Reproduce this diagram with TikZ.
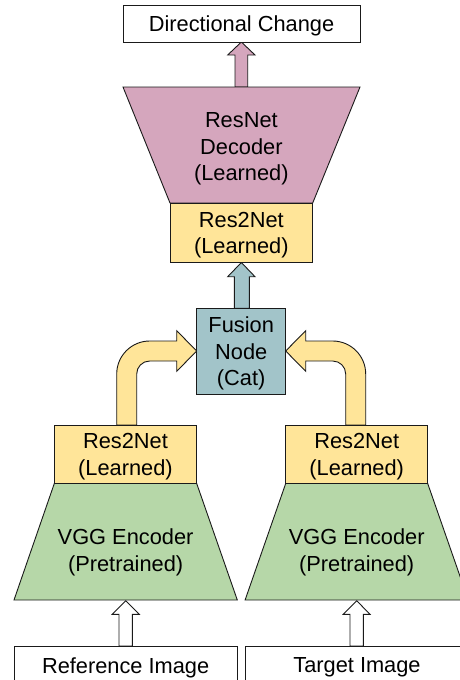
\documentclass[tikz,border=0pt]{standalone}
\usepackage{fontspec}
\setmainfont{Liberation Sans}
\definecolor{pinkc}{HTML}{D5A6BD}
\definecolor{yellowc}{HTML}{FFE599}
\definecolor{tealc}{HTML}{A2C4C9}
\definecolor{greenc}{HTML}{B6D7A8}
\definecolor{linec}{HTML}{1A1A1A}
\begin{document}
\begin{tikzpicture}[x=1pt,y=-1pt,line width=0.9pt,
  box/.style={draw=linec, inner sep=0pt, outer sep=0pt},
  lbl/.style={inner sep=0pt, align=center, yshift=-2.6pt,
    font=\fontsize{21.8}{26.5}\selectfont},
  shp/.style={draw=linec, line join=miter}]
\useasboundingbox (0,0) rectangle (460,680);
\clip (0,0) rectangle (460,680);

% ---------- block arrows (drawn first) ----------
% pink arrow decoder -> output
\draw[shp, fill=pinkc] (235,87) -- (235,55) -- (227.7,55) -- (241.35,42) -- (255,55) -- (247.7,55) -- (247.7,87) -- cycle;
% teal arrow fusion -> res2net
\draw[shp, fill=tealc] (234.3,308.3) -- (234.3,276.7) -- (227.7,276.7) -- (241.35,262.5) -- (255,276.7) -- (249.3,276.7) -- (249.3,308.3) -- cycle;
% left curved yellow arrow
\draw[shp, fill=yellowc] (116.7,425) -- (116.7,374)
  .. controls (116.7,355.8) and (131.5,341) .. (149.7,341)
  -- (176.7,341) -- (176.7,330.7) -- (196.7,351) -- (176.7,371.3) -- (176.7,361)
  -- (149.7,361) .. controls (142.5,361) and (136.7,366.8) .. (136.7,374)
  -- (136.7,425) -- cycle;
% right curved yellow arrow (mirror)
\draw[shp, fill=yellowc] (365.7,425) -- (365.7,374)
  .. controls (365.7,355.8) and (350.9,341) .. (332.7,341)
  -- (305.7,341) -- (305.7,330.7) -- (285.7,351) -- (305.7,371.3) -- (305.7,361)
  -- (332.7,361) .. controls (339.9,361) and (345.7,366.8) .. (345.7,374)
  -- (345.7,425) -- cycle;
% white input arrows
\draw[shp, fill=white] (119,646) -- (119,614.3) -- (112.3,614.3) -- (125.8,600.7) -- (139.3,614.3) -- (132.3,614.3) -- (132.3,646) -- cycle;
\draw[shp, fill=white] (350,646) -- (350,614.3) -- (343.3,614.3) -- (356.7,600.7) -- (370,614.3) -- (363.3,614.3) -- (363.3,646) -- cycle;

% ---------- trapezoids ----------
\draw[shp, fill=pinkc] (123,87) -- (360,87) -- (312.7,203) -- (170,203) -- cycle;
\draw[shp, fill=greenc] (54.3,483.5) -- (196.7,483.5) -- (237.3,600) -- (14,600) -- cycle;
\draw[shp, fill=greenc] (285.7,483.5) -- (427.7,483.5) -- (468.3,600) -- (245.1,600) -- cycle;

% ---------- boxes ----------
\node[box, fill=white, minimum width=237pt, minimum height=37pt] (out) at (241.5,23.5) {};
\node[box, fill=yellowc, minimum width=142.7pt, minimum height=59.3pt] (r2top) at (241.35,232.6) {};
\node[box, fill=tealc, minimum width=89pt, minimum height=85.7pt] (fus) at (241.2,351.1) {};
\node[box, fill=yellowc, minimum width=142.4pt, minimum height=58.5pt] (r2l) at (125.5,454.2) {};
\node[box, fill=yellowc, minimum width=142pt, minimum height=58.5pt] (r2r) at (356.7,454.2) {};
\node[box, fill=white, minimum width=223.3pt, minimum height=38pt] (refimg) at (125.65,665) {};
\node[box, fill=white, minimum width=222.6pt, minimum height=38pt] (tgtimg) at (357,665) {};

% ---------- labels ----------
\node[lbl] (out-t) at (out.center) {Directional Change};
\node[lbl] (dec-t) at (241.35,146.5) {ResNet\\Decoder\\(Learned)};
\node[lbl] (r2top-t) at (r2top.center) {Res2Net\\(Learned)};
\node[lbl] (fus-t) at (fus.center) {Fusion\\Node\\(Cat)};
\node[lbl] (r2l-t) at (r2l.center) {Res2Net\\(Learned)};
\node[lbl] (r2r-t) at (r2r.center) {Res2Net\\(Learned)};
\node[lbl] (vggl-t) at (125.6,550) {VGG Encoder\\(Pretrained)};
\node[lbl] (vggr-t) at (356.7,550) {VGG Encoder\\(Pretrained)};
\node[lbl] (refimg-t) at (refimg.center) {Reference Image};
\node[lbl] (tgtimg-t) at (tgtimg.center) {Target Image};
\end{tikzpicture}
\end{document}
